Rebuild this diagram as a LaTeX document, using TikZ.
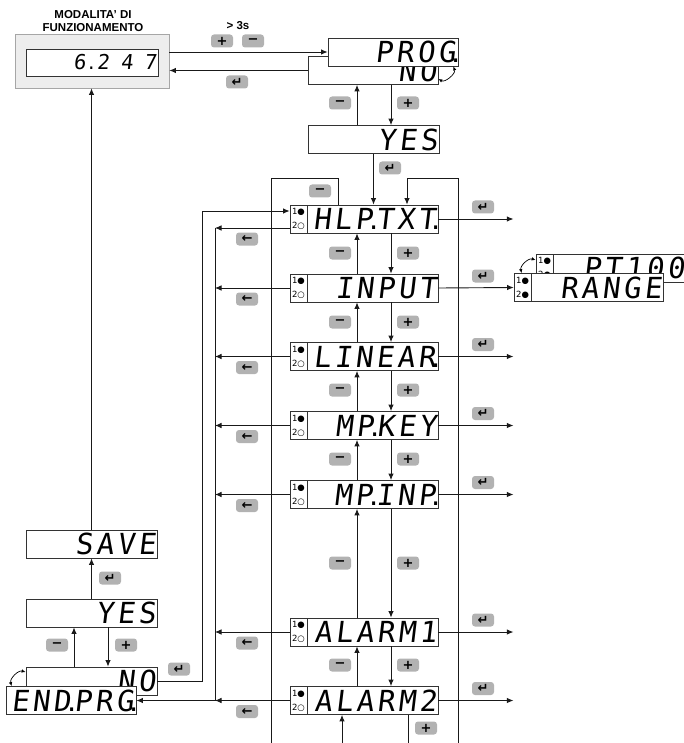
\documentclass[tikz,border=0pt]{standalone}
\usepackage{fontspec}
\setmainfont{Liberation Sans}
\newfontfamily\segfont[FakeSlant=0.12,LetterSpace=12]{DejaVu Sans Mono}
\newfontfamily\segwide[FakeSlant=0.12,LetterSpace=55]{DejaVu Sans Mono}
\newfontfamily\symfont{DejaVu Sans}
\usetikzlibrary{arrows.meta,calc,positioning}
\newcommand\sd[1][3.5pt]{\hbox to #1{\hss\symfont .\hss}}
\newcommand\td{\kern1pt\makebox[0pt]{\symfont .}\hspace*{1.5pt}}

\begin{document}
\begin{tikzpicture}[x=1pt,y=-1pt,>={Latex[length=6.5pt,width=5.5pt]},
  disp/.style={draw=black!80,fill=white,line width=0.8pt,minimum height=28,
    inner xsep=1.5pt,inner ysep=0pt,text width=#1,align=right,
    font=\segfont\fontsize{29}{29}\selectfont},
  ind/.style={draw=black!80,fill=white,line width=0.8pt,minimum width=17,
    minimum height=28,inner sep=0.5pt,align=left,
    font=\symfont\fontsize{8.5}{14}\selectfont},
  key/.style={fill=black!30,rounded corners=3pt,minimum width=22,
    minimum height=13,inner sep=0pt,font=\symfont\bfseries\fontsize{13}{13}\selectfont},
  conn/.style={line width=0.9pt,black!90},
  arr/.style={conn,->},
  curv/.style={line width=0.7pt,{Latex[length=4pt,width=3.5pt]}-{Latex[length=4pt,width=3.5pt]}}]

\useasboundingbox (0,0) rectangle (683,743);

\coordinate (upx) at (357,0);
\coordinate (dnx) at (391,0);
\coordinate (lbus) at (215,0);
\coordinate (rin) at (202,0);
\coordinate (wl) at (271,178);
\coordinate (wlb) at (271,743);
\coordinate (wr) at (458,178);
\coordinate (wrb) at (458,743);
\coordinate (bup) at (342,743);
\coordinate (bdn) at (408,743);
\coordinate (uplx) at (74,0);
\coordinate (dnlx) at (108,0);

\node[font=\bfseries\fontsize{11.5}{13.5}\selectfont,align=center] (modt) at (93,21) {MODALITA’ DI\\FUNZIONAMENTO};
\node[draw=black!35,fill=black!7,line width=0.8pt,minimum width=154,minimum height=54] (modo) at (92,61) {};
\node[disp=129,minimum height=27,font=\segwide\fontsize{20.5}{20.5}\selectfont] (modi) at (92,62.5) {6\sd[11.3pt]247};

\node[disp=127] (no1) at (373,70.5) {NO};
\node[disp=127] (prog) at (393,52) {PROG\td};
\node[disp=128] (yes1) at (373.5,139.5) {YES};
\draw[curv] ([yshift=-8.5pt]no1.east) to[bend right=70] ([xshift=-5pt]prog.south east);

\node[font=\bfseries\fontsize{11.5}{11.5}\selectfont] (tl) at (238,26) {> 3s};
\node[key] (k1) at (222,41) {+};
\node[key] (k2) at (253,41) {−};
\node[key] (k3) at (237,82) {↵};
\draw[arr] (modo.east |- prog.west) -- (prog.west);
\draw[arr] (no1.west) -- (no1.west -| modo.east);

\draw[arr] (yes1.north -| upx) -- (no1.south -| upx);
\draw[arr] (no1.south -| dnx) -- (yes1.north -| dnx);
\node[key] (k4) at (340,103) {−};
\node[key] (k5) at (408,103) {+};

\foreach \n/\y/\t/\o in {hlp/219/HLP\sd TXT\td/9,input/288/INPUT/0,
    linear/356.5/LINEAR\td/0,mpkey/425.5/MP\sd KEY/0,mpinp/494.5/MP\sd INP\td/0,
    alarm1/632/ALARM1/0,alarm2/700.5/ALARM2/0} {
  \node[disp=145] (\n) at (364,\y) {\t};
  \node[ind,anchor=west] (\n-i) at (\n.west) {1●\\2○};
  \draw[arr] ([yshift=-\o]\n.west) -- ([yshift=-\o]\n.west -| lbus);
  \node[key] (\n-l) at (247,\y+\o+11) {←};
  \node[key] (\n-e) at (483,\y-12) {↵};
}
\foreach \n in {hlp,linear,mpkey,mpinp,alarm1,alarm2}
  \draw[arr] (\n.east) -- ++(75,0);

\foreach \a/\b/\y in {hlp/input/253,input/linear/322,linear/mpkey/390,
    mpkey/mpinp/459,mpinp/alarm1/563,alarm1/alarm2/665} {
  \draw[arr] (\b.north -| upx) -- (\a.south -| upx);
  \draw[arr] (\a.south -| dnx) -- (\b.north -| dnx);
  \node[key] (\a-m) at (340,\y) {−};
  \node[key] (\a-p) at (408,\y) {+};
}

\draw[arr] (yes1.south) -- (yes1.south |- hlp.north);
\node[key] (k6) at (390,168) {↵};
\draw[conn] ([xshift=-26pt]hlp.north) |- (wl) -- (wlb);
\node[key] (k7) at (320,191) {−};
\draw[arr] (wrb) -- (wr) -| ([xshift=43pt]hlp.north);

\draw[arr] (bup) -- (bup |- alarm2.south);
\draw[conn] (alarm2.south -| bdn) -- (bdn);
\node[key] (k8) at (426,728) {+};

\node[disp=147] (pt100) at (611,268) {PT100};
\node[ind,anchor=west] (pt100-i) at (pt100.west) {1●\\2●};
\node[disp=146] (range) at (588.5,287.5) {RANGE};
\node[ind,anchor=west] (range-i) at (range.west) {1●\\2●};
\draw[arr] (input.east) -- (range.west);
\draw[curv] ([yshift=8pt]pt100.west) to[bend right=60] ([xshift=8pt]range.north west);

\node[disp=128] (save) at (91.5,544) {SAVE};
\node[disp=128] (yes2) at (91.5,613) {YES};
\node[disp=128] (no2) at (91.5,681) {NO};
\node[disp=127] (endprg) at (71,700.5) {END\sd PRG\td};
\draw[curv] ([yshift=9pt]no2.west) to[bend right=60] ([xshift=6pt]endprg.north west);

\draw[arr] (save.north) -- (save.north |- modo.south);
\draw[arr] (yes2.north) -- (save.south);
\node[key] (k9) at (110,578) {↵};
\draw[arr] (no2.north -| uplx) -- (yes2.south -| uplx);
\draw[arr] (yes2.south -| dnlx) -- (no2.north -| dnlx);
\node[key] (k10) at (57,645) {−};
\node[key] (k11) at (126,645) {+};

\draw[arr] ([yshift=-9pt]hlp.west -| lbus) -- (alarm2.west -| lbus) -- (endprg.east);
\draw[arr] (no2.east) -- (no2.east -| rin) |- ([yshift=8pt]hlp.west);
\node[key] (k12) at (179,669) {↵};
\end{tikzpicture}
\end{document}
